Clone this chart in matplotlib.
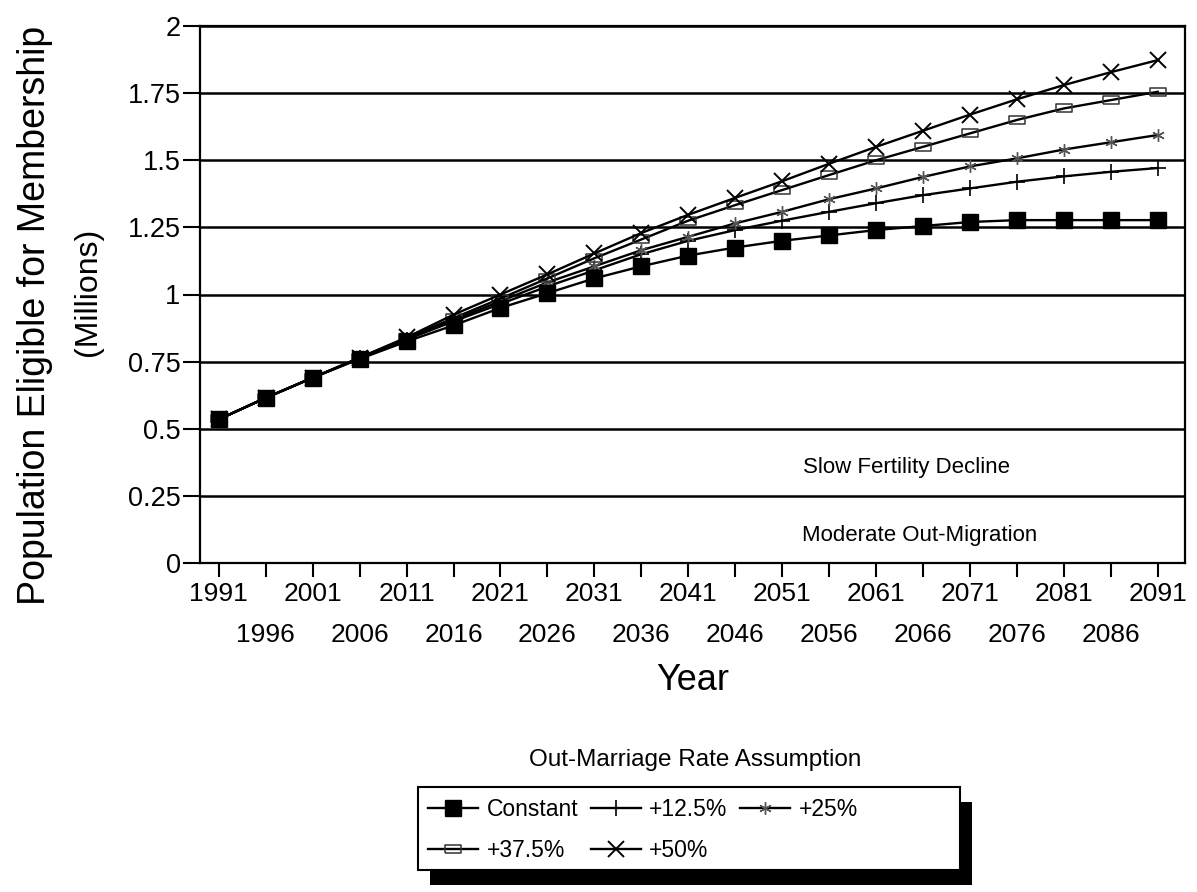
import matplotlib.pyplot as plt
from matplotlib.patches import Rectangle

# 1. Données (millions)
years = list(range(1991, 2092, 5))

constant = [0.535, 0.615, 0.69, 0.76, 0.825, 0.885, 0.95, 1.005, 1.06, 1.105, 1.145,
            1.175, 1.20, 1.22, 1.24, 1.255, 1.27, 1.277, 1.277, 1.277, 1.277]
plus_125 = [0.535, 0.615, 0.69, 0.762, 0.832, 0.90, 0.965, 1.03, 1.09, 1.15, 1.20,
            1.24, 1.275, 1.308, 1.34, 1.37, 1.395, 1.42, 1.44, 1.457, 1.471]
plus_25 = [0.535, 0.615, 0.69, 0.763, 0.835, 0.905, 0.975, 1.045, 1.105, 1.165, 1.215,
           1.265, 1.308, 1.355, 1.395, 1.438, 1.477, 1.507, 1.54, 1.567, 1.594]
plus_375 = [0.535, 0.615, 0.69, 0.764, 0.838, 0.912, 0.985, 1.06, 1.135, 1.205, 1.275,
            1.333, 1.389, 1.445, 1.50, 1.55, 1.60, 1.65, 1.693, 1.724, 1.755]
plus_50 = [0.535, 0.615, 0.69, 0.765, 0.84, 0.925, 1.0, 1.075, 1.153, 1.229, 1.297,
           1.36, 1.422, 1.487, 1.55, 1.61, 1.67, 1.727, 1.78, 1.828, 1.873]

series_labels = ["Constant", "+12.5%", "+25%", "+37.5%", "+50%"]
y_ticks = [0, 0.25, 0.5, 0.75, 1, 1.25, 1.5, 1.75, 2]
y_tick_labels = ["0", "0.25", "0.5", "0.75", "1", "1.25", "1.5", "1.75", "2"]

plt.rcParams['font.family'] = ['Liberation Sans', 'DejaVu Sans']

# 2. Figure et axes
fig = plt.figure(figsize=(11.97, 8.92), dpi=100)
ax = fig.add_axes([200 / 1197, 1 - 563 / 892, 985 / 1197, 537 / 892])

# marqueur "boîte" pour +37.5%
box_marker = [(-1.2, -0.7), (1.2, -0.7), (1.2, 0.7), (-1.2, 0.7), (-1.2, -0.7)]

l0, = ax.plot(years, constant, color='black', lw=1.7, marker='s', ms=11, mfc='black',
              mec='black', label=series_labels[0], zorder=5)
l1, = ax.plot(years, plus_125, color='black', lw=1.7, marker='+', ms=11, mew=1.2,
              label=series_labels[1], zorder=4)
l2, = ax.plot(years, plus_25, color='black', lw=1.7, marker=(6, 2, 0), ms=9, mew=1.0,
              mec='#555555', label=series_labels[2], zorder=4)
l3, = ax.plot(years, plus_375, color='black', lw=1.7, marker=box_marker, ms=11, mew=1.1,
              mfc='none', mec='#333333', label=series_labels[3], zorder=4)
l4, = ax.plot(years, plus_50, color='black', lw=1.7, marker='x', ms=11, mew=1.4,
              label=series_labels[4], zorder=4)

# 3. Axes, grilles, graduations
ax.set_xlim(1989, 2093.9)
ax.set_ylim(0, 2)
ax.set_yticks(y_ticks)
ax.set_yticklabels(y_tick_labels)
ax.yaxis.grid(True, color='black', lw=1.8)
ax.set_axisbelow(True)
for s in ax.spines.values():
    s.set_linewidth(1.6)

ax.set_xticks(years[::2])
ax.set_xticklabels([str(y) for y in years[::2]])
ax.set_xticks(years[1::2], minor=True)
ax.set_xticklabels([str(y) for y in years[1::2]], minor=True)
ax.tick_params(axis='x', which='major', length=10, width=1.5, pad=4, labelsize=19)
ax.tick_params(axis='x', which='minor', length=10, width=1.5, pad=33, labelsize=19)
ax.tick_params(axis='y', length=12, width=1.5, pad=2, labelsize=19.5)

ax.set_xlabel("Year", fontsize=26, labelpad=12)
fig.text(35 / 1197, 1 - 315 / 892, "Population Eligible for Membership", rotation=90,
         fontsize=27, ha='center', va='center')
fig.text(88 / 1197, 1 - 292 / 892, "(Millions)", rotation=90, fontsize=23,
         ha='center', va='center')

# annotations dans le graphique
ax.text(2064.2, 0.357, "Slow Fertility Decline", fontsize=16, ha='center', va='center')
ax.text(2065.6, 0.104, "Moderate Out-Migration", fontsize=16, ha='center', va='center')

# 4. Légende : cadre blanc + ombre noire dessinés à la main
fig.text(695 / 1197, 1 - 760 / 892, "Out-Marriage Rate Assumption", fontsize=17.5,
         ha='center', va='center')
fig.patches.append(Rectangle((430 / 1197, 1 - 885 / 892), 542 / 1197, 83 / 892,
                             transform=fig.transFigure, facecolor='black', zorder=1))
fig.patches.append(Rectangle((418 / 1197, 1 - 870 / 892), 542 / 1197, 83 / 892,
                             transform=fig.transFigure, facecolor='white',
                             edgecolor='black', lw=1.5, zorder=2))

# ordre ligne par ligne (la légende se remplit par colonnes)
leg = fig.legend([l0, l3, l1, l4, l2],
                 [series_labels[0], series_labels[3], series_labels[1], series_labels[4],
                  series_labels[2]],
                 ncol=3, loc='center left', bbox_to_anchor=(428 / 1197, 1 - 830 / 892),
                 fontsize=16.5, frameon=False, handlelength=2.2, handletextpad=0.35,
                 columnspacing=0.55, borderpad=0, borderaxespad=0, labelspacing=0.75)

plt.savefig('out.png', dpi=100)
